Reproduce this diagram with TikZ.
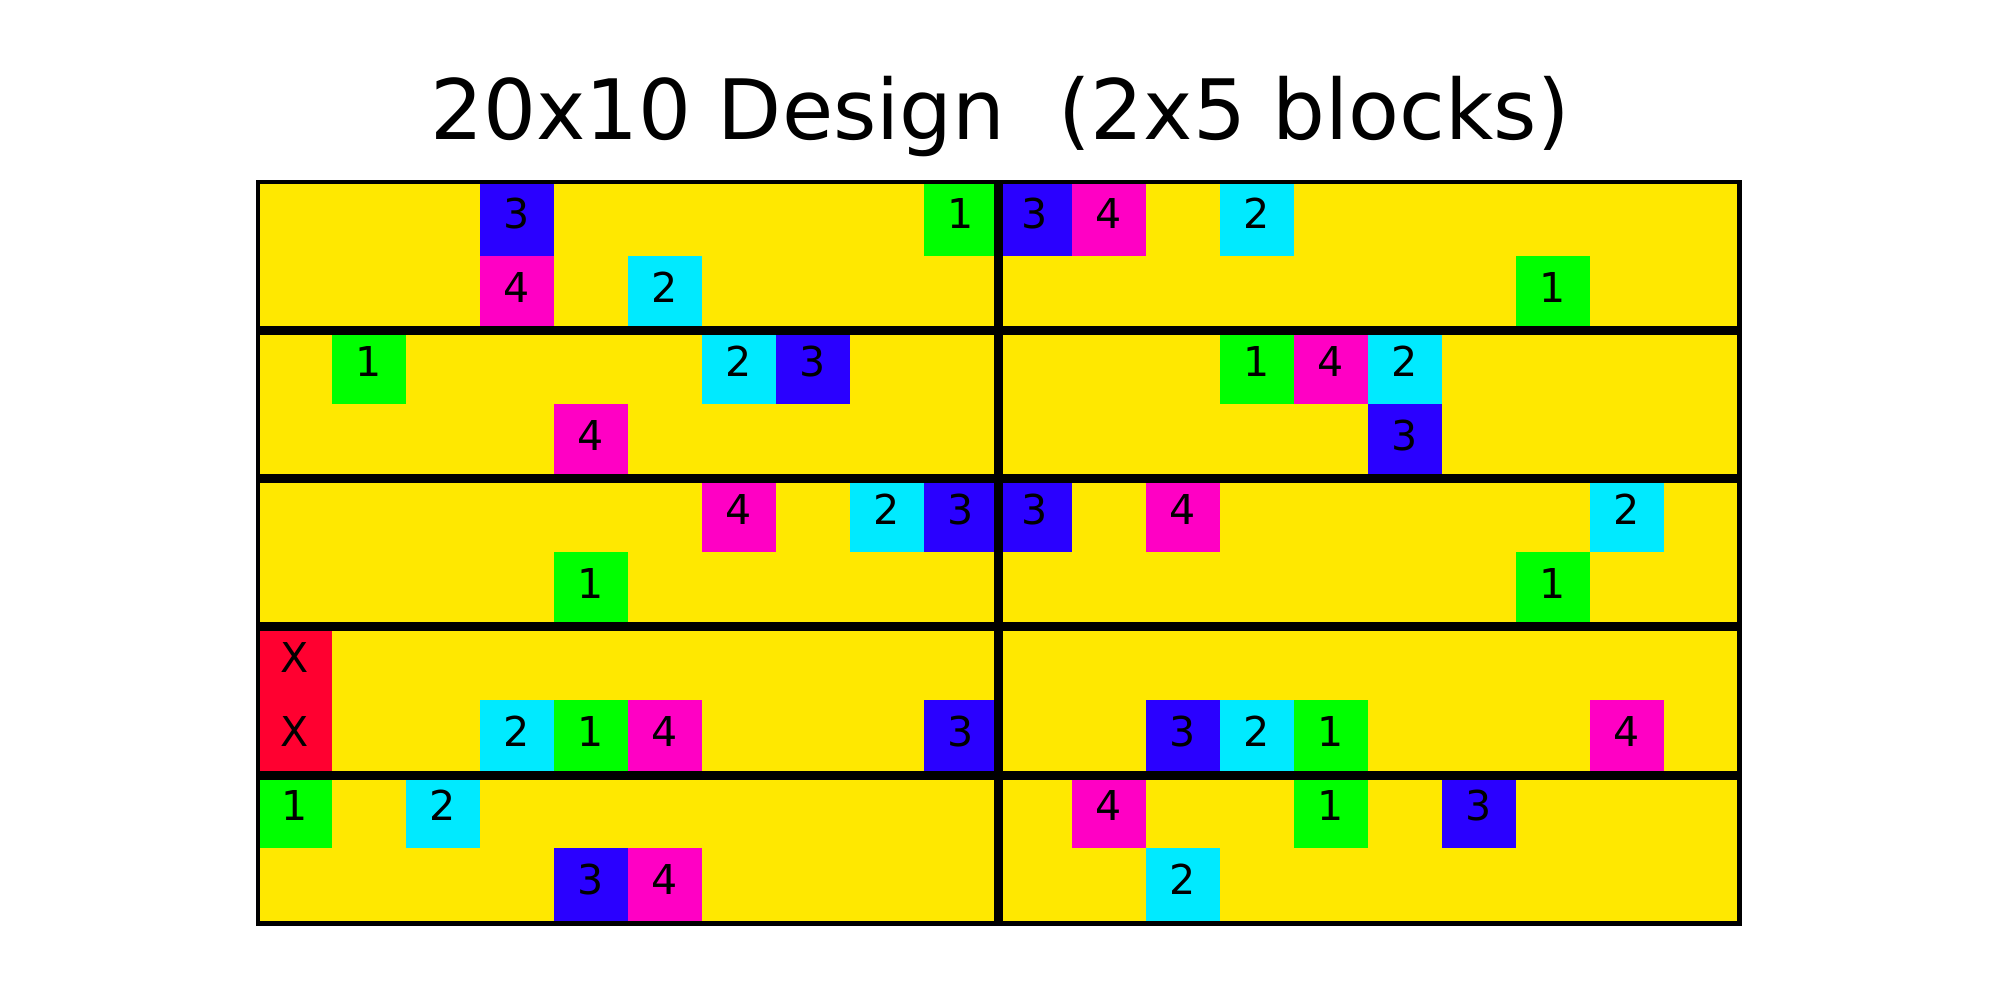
\documentclass[tikz,border=0pt]{standalone}
\usepackage{fontspec}
\setmainfont{DejaVu Sans}
\usetikzlibrary{positioning, calc}
\definecolor{cYellow}{RGB}{255,232,0}
\definecolor{cell1}{RGB}{0,255,0}
\definecolor{cell2}{RGB}{0,234,255}
\definecolor{cell3}{RGB}{42,0,255}
\definecolor{cell4}{RGB}{255,0,196}
\definecolor{cellX}{RGB}{255,0,48}
\tikzset{
    board/.style   ={rectangle, minimum width=14.8cm, minimum height=7.4cm, inner sep=0pt, fill=cYellow},
    cellbox/.style ={rectangle, minimum size=0.74cm, inner sep=0pt, text height=0.3cm, text depth=0.1cm, font=\fontsize{11.7}{12}\selectfont},
    blockline/.style={line width=2.6pt},
    border/.style  ={line width=1.3pt},
}
\begin{document}
\begin{tikzpicture}
        \useasboundingbox (0,0) rectangle (20,10);
        % title
        \node[anchor=base, font=\fontsize{23.7}{28}\selectfont] (title) at (10,8.60) {20x10 Design\ \ (2x5 blocks)};
        % yellow field
        \node[board, anchor=north west] (grid) at (2.58,8.18) {};
        % coloured cells: row/column/label
        \foreach \r/\c/\l in {0/3/3, 0/9/1, 0/10/3, 0/11/4, 0/13/2,
                              1/3/4, 1/5/2, 1/17/1,
                              2/1/1, 2/6/2, 2/7/3, 2/13/1, 2/14/4, 2/15/2,
                              3/4/4, 3/15/3,
                              4/6/4, 4/8/2, 4/9/3, 4/10/3, 4/12/4, 4/18/2,
                              5/4/1, 5/17/1,
                              6/0/X,
                              7/0/X, 7/3/2, 7/4/1, 7/5/4, 7/9/3, 7/12/3, 7/13/2, 7/14/1, 7/18/4,
                              8/0/1, 8/2/2, 8/11/4, 8/14/1, 8/16/3,
                              9/4/3, 9/5/4, 9/12/2}
            \node[cellbox, fill=cell\l] (cell-\r-\c) at ($(grid.north west)+({0.74*(\c+0.5)},{-0.74*(\r+0.5)})$) {\l};

        % block lines
        \draw[blockline] (grid.north) -- (grid.south);
        \foreach \k in {1,...,4}
            \draw[blockline] ($(grid.north west)!\k/5!(grid.south west)$) -- ($(grid.north east)!\k/5!(grid.south east)$);
        \draw[border] (grid.north west) rectangle (grid.south east);
    \end{tikzpicture}
\end{document}
